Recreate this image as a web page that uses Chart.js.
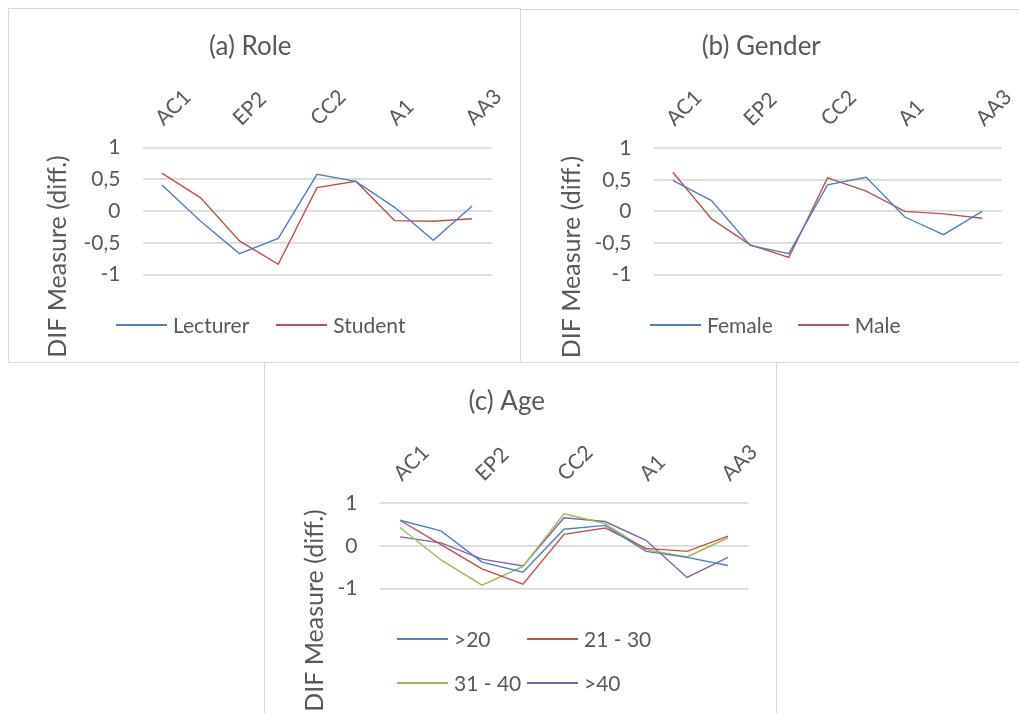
<!DOCTYPE html>
<html>
<head>
<meta charset="utf-8">
<script src="https://cdn.jsdelivr.net/npm/chart.js@4.4.1/dist/chart.umd.min.js"></script>
<style>
  body { margin: 0; background: #fff; width: 1019px; height: 713px; overflow: hidden; position: relative; font-family: Lato, sans-serif; }
  .box { position: absolute; width: 513px; height: 355px; box-sizing: border-box; border: 1.5px solid #d9d9d9; background: #fff; }
  .box .holder { position: absolute; left: 0; top: 0; right: 0; bottom: 0; }
  .legend { position: absolute; color: #595959; font-size: 21px; line-height: 24px; }
  .legend .item { display: flex; align-items: center; white-space: nowrap; }
  .legend .swatch { width: 51px; height: 1.5px; margin-right: 6px; }
</style>
</head>
<body>
  <div class="box" style="left: 8px; top: 8px;">
    <div class="holder"><canvas id="roleChart"></canvas></div>
    <div class="legend" id="roleLegend" style="left: 107px; top: 304px; display: flex; gap: 27px;"></div>
  </div>
  <div class="box" style="left: 520px; top: 9px; height: 354px;">
    <div class="holder"><canvas id="genderChart"></canvas></div>
    <div class="legend" id="genderLegend" style="left: 129px; top: 303px; display: flex; gap: 25px;"></div>
  </div>
  <div class="box" style="left: 264px; top: 362px;">
    <div class="holder"><canvas id="ageChart"></canvas></div>
    <div class="legend" id="ageLegend" style="left: 132px; top: 264px; display: grid; grid-template-columns: 130px 130px; row-gap: 20px;"></div>
  </div>

<script>
// categories on the top axis (Excel only printed every other label)
const categories = ['AC1', '', 'EP2', '', 'CC2', '', 'A1', '', 'AA3'];

// (a) Role
const roleNames = ['Lecturer', 'Student'];
const lecturer = [0.41, -0.16, -0.67, -0.43, 0.58, 0.47, 0.06, -0.46, 0.08];
const student = [0.60, 0.21, -0.47, -0.84, 0.37, 0.47, -0.15, -0.16, -0.12];

// (b) Gender
const genderNames = ['Female', 'Male'];
const female = [0.49, 0.17, -0.54, -0.67, 0.42, 0.54, -0.09, -0.37, 0.00];
const male = [0.62, -0.12, -0.53, -0.73, 0.53, 0.32, 0.00, -0.04, -0.11];

// (c) Age
const ageNames = ['>20', '21 - 30', '31 - 40', '>40'];
const age1 = [0.60, 0.35, -0.38, -0.62, 0.39, 0.48, -0.13, -0.27, -0.46];
const age2 = [0.60, 0.03, -0.54, -0.90, 0.27, 0.42, -0.06, -0.13, 0.23];
const age3 = [0.43, -0.33, -0.92, -0.48, 0.75, 0.52, -0.09, -0.26, 0.19];
const age4 = [0.21, 0.07, -0.31, -0.47, 0.66, 0.57, 0.13, -0.74, -0.27];

const colors = ['#4f81bd', '#c0504d', '#9bbb59', '#8064a2'];
const textGrey = '#595959';
const fontFamily = 'Lato, sans-serif';

// rotated y axis title, Excel puts it lower than the plot centre
const sideTitle = {
  id: 'sideTitle',
  afterDraw(chart, args, opts) {
    const ctx = chart.ctx;
    ctx.save();
    ctx.translate(opts.x, opts.y);
    ctx.rotate(-Math.PI / 2);
    ctx.font = opts.size + 'px ' + fontFamily;
    ctx.fillStyle = textGrey;
    ctx.textAlign = 'center';
    ctx.textBaseline = 'middle';
    ctx.fillText(opts.text, 0, 0);
    ctx.restore();
  }
};

function makeLegend(id, names) {
  const el = document.getElementById(id);
  names.forEach((name, i) => {
    const item = document.createElement('div');
    item.className = 'item';
    const sw = document.createElement('span');
    sw.className = 'swatch';
    sw.style.background = colors[i];
    item.appendChild(sw);
    item.appendChild(document.createTextNode(name));
    el.appendChild(item);
  });
}

function makeChart(id, title, names, series, p) {
  const ctx = document.getElementById(id).getContext('2d');
  return new Chart(ctx, {
    type: 'line',
    data: {
      labels: categories,
      datasets: series.map((data, i) => ({
        label: names[i],
        data,
        borderColor: colors[i],
        backgroundColor: colors[i],
        borderWidth: 1.4,
        pointRadius: 0,
        tension: 0,
        fill: false,
      })),
    },
    options: {
      responsive: true,
      maintainAspectRatio: false,
      animation: false,
      layout: { padding: { left: 0, right: p.padRight, top: 0, bottom: p.padBottom } },
      plugins: {
        legend: { display: false },
        tooltip: { enabled: false },
        title: {
          display: true,
          text: title,
          color: textGrey,
          font: { family: fontFamily, size: 26, weight: 'normal' },
          padding: { top: p.titleTop, bottom: 0 },
        },
        sideTitle: { text: 'DIF Measure (diff.)', x: p.sideX, y: p.sideY, size: 25 },
      },
      scales: {
        x: {
          position: 'top',
          offset: true,
          grid: { display: false, drawTicks: false },
          border: { display: false },
          ticks: {
            autoSkip: false,
            minRotation: 45,
            maxRotation: 45,
            padding: 17,
            labelOffset: 15,
            color: textGrey,
            font: { family: fontFamily, size: 21 },
          },
          afterFit: (s) => { s.height = p.xHeight; },
        },
        y: {
          min: -1,
          max: 1,
          grid: { color: '#d9d9d9', lineWidth: 1.8, drawTicks: false },
          border: { display: false },
          ticks: {
            stepSize: p.step,
            padding: 22,
            color: textGrey,
            font: { family: fontFamily, size: 21 },
            callback: (v) => String(v).replace('.', ','),
          },
          afterFit: (s) => { s.width = p.yWidth; },
        },
      },
    },
    plugins: [sideTitle],
  });
}

makeChart('roleChart', '(a) Role', roleNames, [lecturer, student],
  { padRight: 28.5, padBottom: 87.5, titleTop: 22, xHeight: 85.5, yWidth: 133.5, step: 0.5, sideX: 48.5, sideY: 247.5 });
makeChart('genderChart', '(b) Gender', genderNames, [female, male],
  { padRight: 30.5, padBottom: 87.5, titleTop: 21, xHeight: 86, yWidth: 132.5, step: 0.5, sideX: 50.5, sideY: 247 });
makeChart('ageChart', '(c) Age', ageNames, [age1, age2, age3, age4],
  { padRight: 27.5, padBottom: 127.5, titleTop: 23, xHeight: 86, yWidth: 114.5, step: 1, sideX: 49.5, sideY: 247.5 });

makeLegend('roleLegend', roleNames);
makeLegend('genderLegend', genderNames);
makeLegend('ageLegend', ageNames);
</script>
</body>
</html>
